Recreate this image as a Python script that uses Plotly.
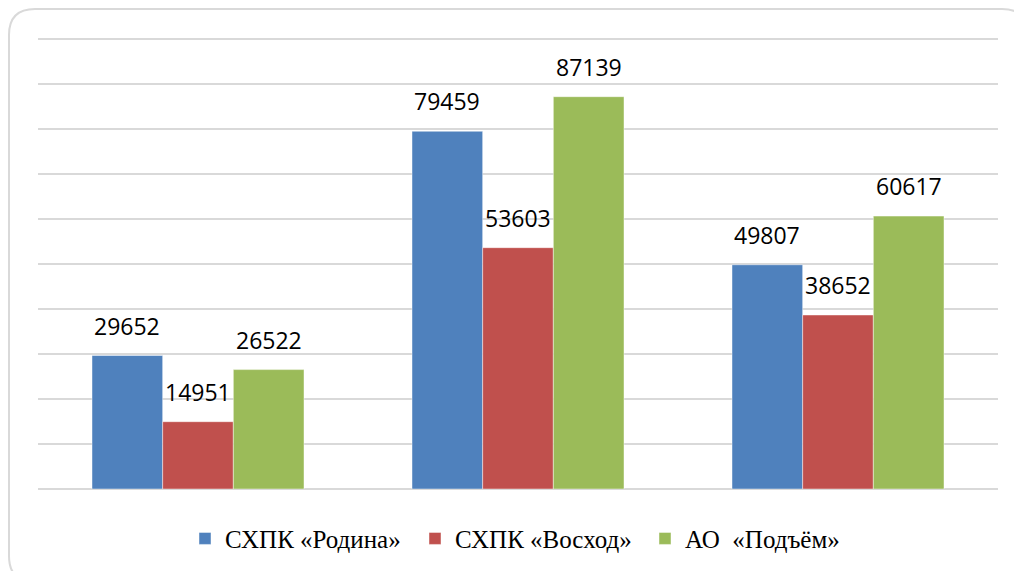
import plotly.graph_objects as go

# Category groups along the horizontal axis (axis labels are hidden)
categories = ["Группа 1", "Группа 2", "Группа 3"]

# Series values per category
series_names = ["СХПК «Родина»", "СХПК «Восход»", "АО  «Подъём»"]
rodina = [29652, 79459, 49807]
voskhod = [14951, 53603, 38652]
podyom = [26522, 87139, 60617]

colors = ["#4f81bd", "#c0504d", "#9bbb59"]

# Layout geometry (pixels)
W, H = 1014, 571
ML, MR, MT, MB = 38, 16, 37, 82
BARGAP = 0.3375
Y_MAX = 100400
plot_w = W - ML - MR
plot_h = H - MT - MB

fig = go.Figure()
all_series = [rodina, voskhod, podyom]
for name, vals, col in zip(series_names, all_series, colors):
    fig.add_trace(go.Bar(
        x=categories, y=vals, name=name,
        marker=dict(color=col, line=dict(color="rgba(255,255,255,0.45)", width=1)),
    ))

# Value labels above each bar, shifted to the bar's slot within its group
cat_px = plot_w / len(categories)
bar_px = cat_px * (1 - BARGAP) / len(all_series)
for si, vals in enumerate(all_series):
    shift = (si - (len(all_series) - 1) / 2) * bar_px
    for c, v in zip(categories, vals):
        fig.add_annotation(
            x=c, y=v, text=str(v), showarrow=False,
            xanchor="center", yanchor="bottom", xshift=shift, yshift=12,
            font=dict(family="Open Sans", size=23, color="#000000"),
        )

# Rounded outer frame (partly running past the right and bottom edges)
def px(xp):
    return (xp - ML) / plot_w

def py(yp):
    return (H - MB - yp) / plot_h

x0, y0, x1, y1, r = 9, 9, 1028, 582, 26
path = (
    f"M{px(x0)},{py(y0 + r)} Q{px(x0)},{py(y0)} {px(x0 + r)},{py(y0)} "
    f"L{px(x1 - r)},{py(y0)} Q{px(x1)},{py(y0)} {px(x1)},{py(y0 + r)} "
    f"L{px(x1)},{py(y1 - r)} Q{px(x1)},{py(y1)} {px(x1 - r)},{py(y1)} "
    f"L{px(x0 + r)},{py(y1)} Q{px(x0)},{py(y1)} {px(x0)},{py(y1 - r)} Z"
)
fig.add_shape(type="path", path=path, xref="paper", yref="paper",
              line=dict(color="#d9d9d9", width=2), layer="below")

fig.update_layout(
    width=W, height=H,
    margin=dict(l=ML, r=MR, t=MT, b=MB, autoexpand=False),
    paper_bgcolor="white", plot_bgcolor="white",
    barmode="group", bargap=BARGAP, bargroupgap=0,
    showlegend=True,
    legend=dict(
        orientation="h", x=0.5125, xanchor="center", y=-0.059, yanchor="top",
        font=dict(family="Liberation Serif", size=25, color="#000000"),
        entrywidth=185, entrywidthmode="pixels",
        itemclick=False, itemdoubleclick=False,
    ),
    xaxis=dict(showticklabels=False, ticks="", showgrid=False, zeroline=False,
               showline=False),
    yaxis=dict(range=[0, Y_MAX], tick0=0, dtick=10000, showticklabels=False,
               ticks="", showgrid=True, gridcolor="#d9d9d9", gridwidth=2,
               zeroline=True, zerolinecolor="#d9d9d9", zerolinewidth=2,
               showline=False),
)

fig.write_html("out.html")
